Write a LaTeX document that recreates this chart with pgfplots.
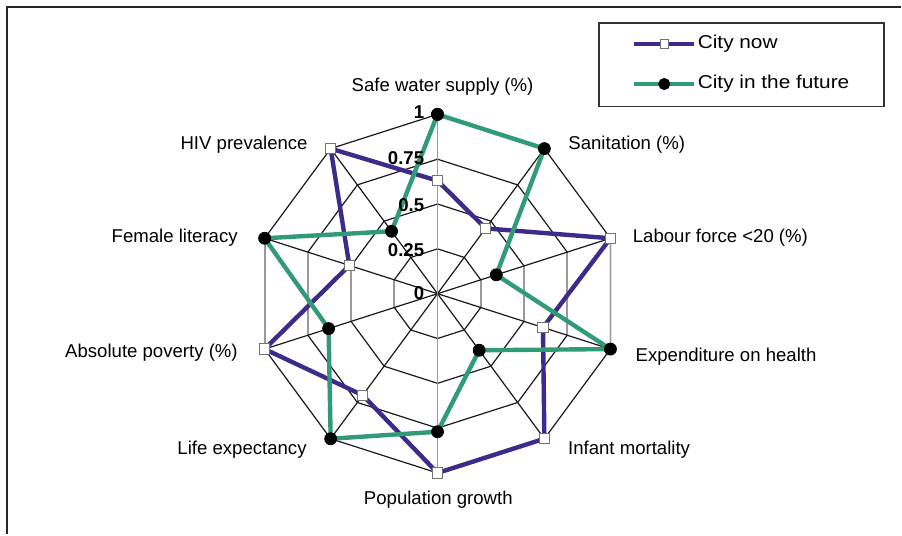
\documentclass[border=0pt]{standalone}
\usepackage{pgfplots}
\pgfplotsset{compat=1.18}
\usepackage{fontspec}
\setmainfont{Liberation Sans}
\newfontfamily\legfont[FakeStretch=1.12]{Liberation Sans}
\definecolor{cnow}{RGB}{62,42,138}
\definecolor{cfut}{RGB}{48,155,118}
\newcommand{\lab}{\fontsize{9.3}{11}\selectfont}
\begin{document}
\begin{tikzpicture}
\begin{axis}[
  width=451pt, height=267.5pt, scale only axis,
  xmin=-2.4066, xmax=2.5495, ymin=-1.3426, ymax=1.6379,
  hide axis, clip=false,
  legend style={at={(axis cs:1.0714,1.4429)}, anchor=north west, draw=none, fill=none,
    inner sep=0pt, row sep=11.3pt, column sep=1pt,
    font=\legfont\fontsize{9.3}{11}\selectfont,
    nodes={inner sep=0pt, text height=6.7pt, text depth=2pt}},
  legend cell align=left,
  legend image code/.code={\draw[mark repeat=2,mark phase=2,#1,line width=1.6pt] plot coordinates {(0pt,0pt) (15pt,0pt) (30pt,0pt)};},
]
\path (rel axis cs:0,0) rectangle (rel axis cs:1,1);
% grid rings
\pgfplotsinvokeforeach{0.25,0.5,0.75,1}{
  \addplot[forget plot, black!90, line width=0.6pt, data cs=polar] coordinates {(90,#1) (54,#1) (18,#1) (-18,#1) (-54,#1) (-90,#1) (-126,#1) (-162,#1) (162,#1) (126,#1) (90,#1)};
  \addplot[forget plot, gray!80, line width=0.9pt, data cs=polar] coordinates {(18,#1) (-18,#1)};
  \addplot[forget plot, gray!80, line width=0.9pt, data cs=polar] coordinates {(162,#1) (198,#1)};
}
% spokes
\pgfplotsinvokeforeach{54,18,-18,-54,-126,-162,162,126}{
  \addplot[forget plot, black!90, line width=0.6pt, data cs=polar] coordinates {(#1,0) (#1,1)};
}
\addplot[forget plot, gray!80, line width=0.9pt, data cs=polar] coordinates {(90,1) (90,0) (-90,1)};
% data
\addplot[cnow, line width=2.2pt, mark=square*, mark size=2.6pt,
  mark options={fill=white, draw=black!55, line width=0.5pt},
  legend image post style={mark size=2.1pt}, data cs=polar]
  coordinates {(90,0.63) (54,0.45) (18,1) (-18,0.61) (-54,1) (-90,1) (-126,0.70) (-162,1) (162,0.51) (126,1) (90,0.63)};
\addlegendentry{City now}
\addplot[cfut, line width=2.2pt, mark=*, mark size=3.0pt,
  mark options={fill=black, draw=black, line width=0.4pt},
  legend image post style={mark size=2.8pt}, data cs=polar]
  coordinates {(90,1) (54,1) (18,0.34) (-18,1) (-54,0.39) (-90,0.77) (-126,1) (-162,0.63) (162,1) (126,0.43) (90,1)};
\addlegendentry{City in the future}
% category labels
\node[font=\lab, anchor=base] at (axis cs:0.0275,1.1253) {Safe water supply (\%)};
\node[font=\lab, anchor=base west] at (axis cs:0.6813,0.8022) {Sanitation (\%)};
\node[font=\lab, anchor=base west] at (axis cs:1.0357,0.2858) {Labour force <20 (\%)};
\node[font=\lab, anchor=base west] at (axis cs:1.0511,-0.3772) {Expenditure on health};
\node[font=\lab, anchor=base west] at (axis cs:0.6797,-0.8969) {Infant mortality};
\node[font=\lab, anchor=base] at (axis cs:0.0044,-1.1755) {Population growth};
\node[font=\lab, anchor=base east] at (axis cs:-0.6813,-0.8969) {Life expectancy};
\node[font=\lab, anchor=base east] at (axis cs:-1.0604,-0.3582) {Absolute poverty (\%)};
\node[font=\lab, anchor=base east] at (axis cs:-1.0604,0.2858) {Female literacy};
\node[font=\lab, anchor=base east] at (axis cs:-0.6758,0.8050) {HIV prevalence};
% value labels
\node[font=\lab\bfseries, anchor=base east, inner sep=0pt] at (axis cs:-0.0714,0.9788) {1};
\node[font=\lab\bfseries, anchor=base east, inner sep=0pt] at (axis cs:-0.0714,0.7186) {0.75};
\node[font=\lab\bfseries, anchor=base east, inner sep=0pt] at (axis cs:-0.0714,0.4585) {0.5};
\node[font=\lab\bfseries, anchor=base east, inner sep=0pt] at (axis cs:-0.0714,0.2078) {0.25};
\node[font=\lab\bfseries, anchor=base east, inner sep=0pt] at (axis cs:-0.0714,-0.0334) {0};
% frame and legend box
\draw[line width=1pt, black!85] (axis cs:-2.3665,-1.3426) -- (axis cs:-2.3665,1.6006) -- (axis cs:2.5495,1.6006);
\draw[line width=0.9pt, black!80] (axis cs:0.8863,1.5114) rectangle (axis cs:2.4560,1.0435);
\end{axis}
\end{tikzpicture}
\end{document}
